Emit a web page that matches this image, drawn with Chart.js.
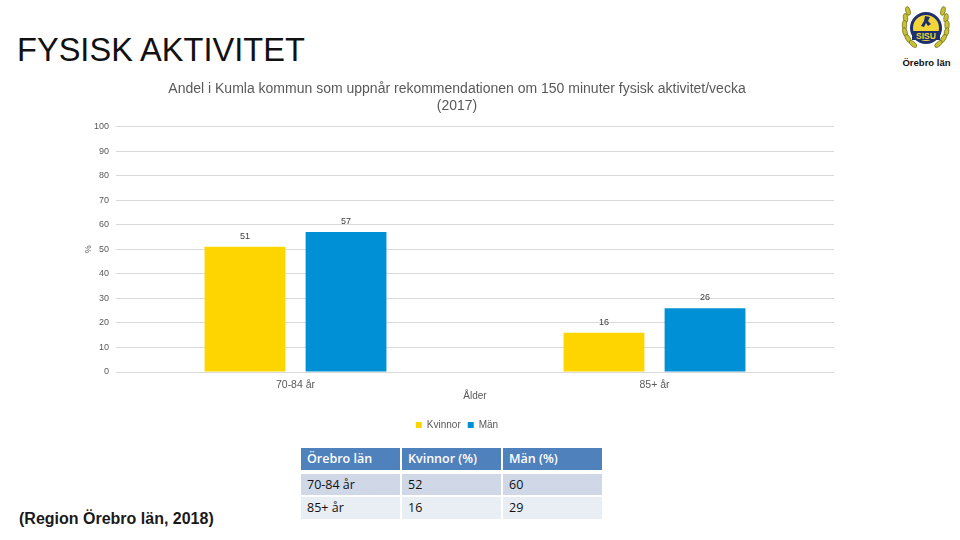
<!DOCTYPE html>
<html lang="sv"><head><meta charset="utf-8">
<style>
html,body{margin:0;padding:0;background:#fff;width:960px;height:540px;overflow:hidden;font-family:"Liberation Sans",Arial,sans-serif}
#h{position:absolute;left:17px;top:31px;font-size:32.6px;line-height:38px;color:#111;white-space:nowrap}
#src{position:absolute;left:19px;top:510px;font-size:16px;line-height:18px;font-weight:bold;color:#1a1a1a;white-space:nowrap}
#wrap{position:absolute;left:80px;top:81px;width:754px;height:359px}
#logo{position:absolute;left:880px;top:0;width:80px;height:75px}
#tbl{position:absolute;left:299px;top:446px;border-collapse:separate;border-spacing:2px;font-family:"Open Sans",sans-serif;font-size:12.5px;color:#111}
#tbl td{width:93px;padding:0 0 0 6px;height:22px;line-height:22px;white-space:nowrap}
#tbl tr.a td{background:#4F81BD;background-clip:padding-box;border-bottom:2px solid #fff;color:#fff;font-weight:600}
#tbl tr.b td{background:#D0D8E8;height:21px;line-height:21px}
#tbl tr.c td{background:#E9EDF4}
</style></head><body>
<div id="h">FYSISK AKTIVITET</div>
<div id="wrap"><canvas id="c" width="754" height="359"></canvas></div>
<div id="src">(Region Örebro län, 2018)</div>
<table id="tbl"><tbody id="tb"></tbody></table>
<svg id="logo" viewBox="0 0 80 75">
<g fill="#c9c233" stroke="#6b6a1a" stroke-width="0.7">
<ellipse cx="28" cy="11" rx="2.2" ry="4.5" transform="rotate(-15 28 11)"/>
<ellipse cx="25.5" cy="18" rx="2.2" ry="4.5" transform="rotate(-5 25.5 18)"/>
<ellipse cx="24.5" cy="25" rx="2.2" ry="4.5" transform="rotate(0 24.5 25)"/>
<ellipse cx="25" cy="32" rx="2.2" ry="4.5" transform="rotate(-15 25 32)"/>
<ellipse cx="28" cy="38.5" rx="2.2" ry="4.5" transform="rotate(-30 28 38.5)"/>
<ellipse cx="33" cy="44" rx="2.2" ry="4.5" transform="rotate(-50 33 44)"/>
<ellipse cx="63" cy="11" rx="2.2" ry="4.5" transform="rotate(15 63 11)"/>
<ellipse cx="66" cy="18" rx="2.2" ry="4.5" transform="rotate(5 66 18)"/>
<ellipse cx="67" cy="25" rx="2.2" ry="4.5" transform="rotate(0 67 25)"/>
<ellipse cx="66.5" cy="32" rx="2.2" ry="4.5" transform="rotate(15 66.5 32)"/>
<ellipse cx="63.5" cy="38.5" rx="2.2" ry="4.5" transform="rotate(30 63.5 38.5)"/>
<ellipse cx="58.5" cy="44" rx="2.2" ry="4.5" transform="rotate(50 58.5 44)"/>
</g>
<circle cx="46" cy="28" r="16" fill="#1d2f6f"/>
<circle cx="46" cy="28" r="13" fill="#f3d53a"/>
<rect x="32" y="31" width="28" height="9" fill="#1d2f6f"/>
<path d="M45 16 l5 1 -2 4 3 3 -3 2 -2 -3 -2 4 -3 -1 3 -5 z" fill="#1d2f6f"/>
<text x="46" y="39" font-size="8.5" font-weight="bold" text-anchor="middle" fill="#f3d53a" font-family="Liberation Sans">SISU</text>
<text x="46.5" y="66" font-size="9.5" font-weight="bold" text-anchor="middle" fill="#111" font-family="Liberation Sans">Örebro län</text>
</svg>
<script src="https://cdn.jsdelivr.net/npm/chart.js@4/dist/chart.umd.min.js"></script>
<script>
const categories = ["70-84 år", "85+ år"];
const kvinnor = [51, 16];
const man = [57, 26];
const titleLines = ["Andel i Kumla kommun som uppnår rekommendationen om 150 minuter fysisk aktivitet/vecka", "(2017)"];
const tableHead = ["Örebro län", "Kvinnor (%)", "Män (%)"];
const tableRows = [["70-84 år", 52, 60], ["85+ år", 16, 29]];

const tb = document.getElementById("tb");
[tableHead].concat(tableRows).forEach((r, i) => {
  const tr = document.createElement("tr");
  tr.className = ["a", "b", "c"][i];
  r.forEach(v => { const td = document.createElement("td"); td.textContent = v; tr.appendChild(td); });
  tb.appendChild(tr);
});

const TXT = "#595959";
const valueLabels = {
  id: "valueLabels",
  afterDatasetsDraw(chart) {
    const ctx = chart.ctx;
    ctx.save();
    ctx.font = '9px "Liberation Sans"';
    ctx.fillStyle = "#404040";
    ctx.textAlign = "center";
    ctx.textBaseline = "bottom";
    chart.data.datasets.forEach((d, i) => {
      chart.getDatasetMeta(i).data.forEach((el, j) => ctx.fillText(d.data[j], el.x, el.y - 6));
    });
    ctx.restore();
  }
};
new Chart(document.getElementById("c"), {
  type: "bar",
  data: { labels: categories, datasets: [
    { label: "Kvinnor", data: kvinnor, backgroundColor: "#FFD500" },
    { label: "Män", data: man, backgroundColor: "#0090D5" }
  ]},
  options: {
    responsive: false, animation: false, devicePixelRatio: 1,
    categoryPercentage: 0.563, barPercentage: 0.8,
    layout: { padding: 0 },
    scales: {
      x: {
        grid: { display: false, drawTicks: false },
        border: { color: "#D9D9D9" },
        ticks: { color: TXT, font: { family: '"Liberation Sans"', size: 10.5 }, padding: 7, maxRotation: 0 },
        title: { display: true, text: "Ålder", color: TXT, font: { family: '"Liberation Sans"', size: 10 }, padding: { top: 0, bottom: 11 } },
        afterFit(s) { s.height = 41; }
      },
      y: {
        min: 0, max: 100,
        grid: { color: "#D9D9D9", drawTicks: false },
        border: { display: false },
        ticks: { stepSize: 10, color: TXT, font: { family: '"Liberation Sans"', size: 9 }, padding: 7 },
        title: { display: true, text: "%", color: TXT, font: { family: '"Liberation Sans"', size: 9 }, padding: { top: 3, bottom: 0 } },
        afterFit(s) { s.width = 36; }
      }
    },
    plugins: {
      tooltip: { enabled: false },
      title: { display: true, text: titleLines, color: TXT, font: { family: '"Liberation Sans"', size: 14, weight: "normal" }, lineHeight: 1.25, padding: { top: 0, bottom: 12 } },
      legend: { position: "bottom", labels: { boxWidth: 6, boxHeight: 6, padding: 7, color: TXT, font: { family: '"Liberation Sans"', size: 10 } } }
    }
  },
  plugins: [valueLabels]
});
</script>
</body></html>
